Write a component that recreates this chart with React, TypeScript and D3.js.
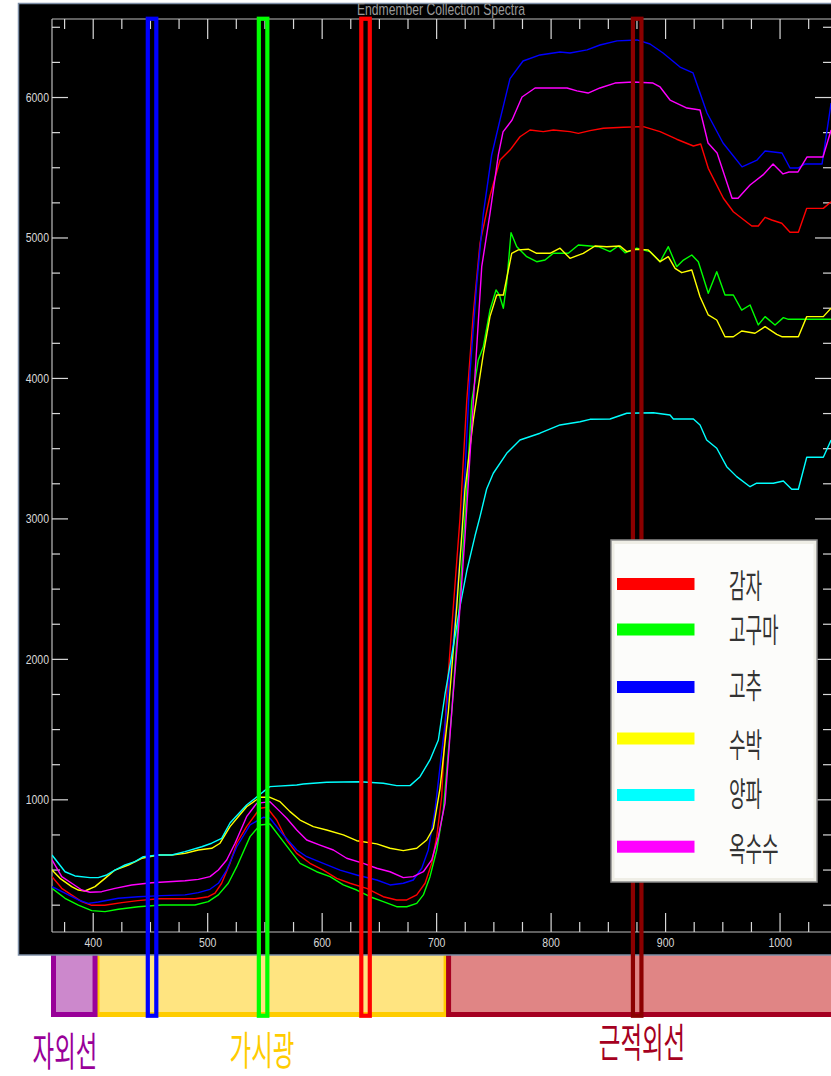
import React from 'react';
import * as d3 from 'd3';

type Pt = [number, number];

// ---- data: [wavelength nm, value] ----
const gamja: Pt[] = [[364,453],[372.5,370],[381,323],[390,275],[398.7,249],[410,249],[425,268],[439,282],[457,296],[489,296],[500.5,310],[506.4,335],[512.2,406],[519.5,548],[525.4,691],[534,809],[545.7,940],[551.6,947],[560.3,856],[569,714],[577.8,619],[589.4,548],[601,500],[612.7,441],[624.3,406],[638.9,370],[653.4,310],[665.1,287],[673.9,287],[682.6,323],[689.9,406],[695.7,548],[700.1,738],[704.4,1022],[708.8,1750],[714.6,2376],[720.4,3003],[726.3,3839],[732.1,4466],[737.9,4964],[746.6,5299],[755.4,5555],[764.1,5626],[772.8,5721],[781.6,5769],[793.2,5757],[802,5769],[816.5,5757],[823.8,5745],[834,5764],[845.6,5781],[863.1,5788],[880.6,5793],[895.2,5757],[909.7,5703],[924.3,5655],[930.7,5669],[937.3,5496],[950.5,5283],[959.2,5187],[975.3,5085],[981,5085],[986.9,5147],[992.7,5128],[1001.5,5105],[1008.7,5041],[1016,5041],[1023.3,5211],[1037.8,5211],[1044.6,5258]];

const goguma: Pt[] = [[364,370],[375.4,299],[387,251],[398.7,211],[410.3,204],[421.9,221],[439.4,239],[459.8,251],[488.9,251],[500.5,275],[509.3,323],[518,406],[525.4,524],[537,738],[545.7,821],[554.4,828],[566.1,702],[580.7,548],[595.2,488],[606.9,453],[618.5,394],[630.2,358],[641.8,310],[653.4,275],[665.1,239],[673.9,239],[682.6,263],[688.4,323],[694.2,453],[700.1,643],[705.9,928],[713.2,1625],[720.4,2458],[726.3,3213],[730.7,3839],[736.4,4132],[740.8,4226],[746.6,4487],[751.9,4630],[754.8,4594],[758.3,4500],[761.2,4677],[765,5038],[770,4938],[778.7,4867],[787.4,4831],[794.7,4843],[801.9,4891],[815,4891],[823.8,4950],[834,4943],[841.3,4938],[851.5,4903],[858.7,4943],[864.6,4895],[874.8,4927],[886.4,4903],[895.2,4831],[902.4,4938],[909.7,4796],[915.6,4843],[922.9,4879],[928.6,4831],[937.3,4606],[944.7,4760],[951.9,4594],[959.2,4594],[966.5,4487],[973.8,4523],[981,4381],[986.9,4440],[995.6,4381],[1002.9,4433],[1007.3,4421],[1044.6,4421]];

const gochu: Pt[] = [[364,382],[375.4,335],[387,287],[395.7,263],[404.5,273],[421.9,299],[439.4,310],[459.8,318],[480.2,323],[491.8,339],[502,363],[509.3,406],[516.6,500],[525.4,666],[537,821],[548.6,876],[554.4,869],[566.1,750],[577.8,643],[586.5,595],[601,548],[615.6,500],[630.2,465],[647.7,429],[659.3,394],[670.9,406],[679.6,429],[687,513],[692.7,643],[698.6,928],[707.3,1540],[714.6,2126],[721.9,2878],[729.2,4046],[735,4673],[740.8,5174],[748.1,5591],[755.4,5842],[764.1,6135],[775.5,6260],[790.3,6303],[807.8,6324],[816.5,6317],[831.4,6339],[842.7,6374],[857.6,6403],[875,6410],[886.4,6381],[897.8,6317],[912.6,6217],[924,6175],[936.2,5890],[950.2,5676],[966.8,5506],[979.9,5555],[986.9,5619],[1001.7,5605],[1008.7,5498],[1015.7,5498],[1021.8,5527],[1036.7,5527],[1044.6,5961]];

const subak: Pt[] = [[364,500],[371,441],[381.2,382],[387,358],[392.8,351],[401.6,382],[410.3,441],[419,500],[430.7,536],[442.4,584],[456.9,607],[468.6,607],[480.2,619],[491.8,643],[503.5,655],[510.8,691],[519.5,809],[534,951],[545.7,1018],[554.4,1018],[563.2,987],[571.9,916],[580.7,856],[592.3,809],[603.9,785],[618.5,750],[630.2,709],[647.7,686],[659.3,655],[670.9,638],[682.6,655],[691.3,714],[697.1,797],[703,1084],[710.2,1625],[717.6,2376],[724.8,3213],[732.1,3709],[740.8,4174],[746.6,4440],[752.5,4594],[758.3,4594],[765.6,4891],[771.4,4915],[780.1,4920],[787.4,4891],[799,4891],[807.8,4927],[816.5,4855],[828.1,4891],[838.4,4943],[848.6,4938],[860.2,4943],[866.1,4903],[874.8,4920],[884.9,4915],[895.2,4831],[902.4,4867],[908.3,4784],[914.1,4753],[922.9,4772],[930.1,4582],[937.3,4452],[944.7,4416],[951.9,4297],[959.2,4297],[966.5,4338],[978.1,4322],[986.9,4369],[997.1,4314],[1001.5,4297],[1016,4297],[1023.3,4440],[1037.8,4440],[1044.6,4500]];

const yangpa: Pt[] = [[364,607],[375.4,488],[384.1,458],[397.2,446],[404.4,446],[411.8,465],[419,500],[427.8,536],[436.5,560],[443.8,595],[456.9,607],[468.6,607],[480.2,631],[494.8,666],[503.5,691],[512.2,726],[519.5,835],[534,963],[548.6,1058],[554.4,1094],[577.8,1106],[583.5,1113],[603.9,1125],[633.1,1129],[653.4,1118],[665.1,1101],[676.8,1101],[685.5,1165],[694.2,1284],[701.5,1426],[707.3,1750],[716.1,2166],[720.4,2376],[726.3,2629],[733.5,2878],[737.9,3016],[743.7,3213],[749.5,3325],[761.2,3467],[772.8,3562],[790.3,3610],[807.8,3669],[825.3,3692],[834,3709],[851.5,3711],[866.1,3752],[889.3,3756],[903.9,3740],[906.8,3711],[924.3,3711],[930.1,3669],[935.9,3562],[944.7,3503],[953.4,3372],[962.1,3301],[973.8,3229],[979.6,3254],[994.1,3254],[1002.9,3270],[1010.2,3211],[1016,3211],[1023.3,3439],[1037.8,3439],[1044.6,3562]];

const oksusu: Pt[] = [[364,572],[372.5,453],[381.2,406],[390,358],[397.2,342],[407.4,346],[419,370],[433.6,394],[451.1,410],[480.2,424],[491.8,434],[502,453],[509.3,500],[516.6,572],[523.9,691],[534,880],[542.8,975],[554.4,987],[563.2,916],[569,869],[577.8,785],[586.5,714],[598.1,678],[609.8,643],[621.4,584],[636,548],[647.7,513],[659.3,488],[670.9,446],[679.6,453],[688.4,488],[695.7,572],[701.5,738],[707.3,975],[713.2,1625],[719,2209],[724.8,2878],[732.1,3839],[739.4,4796],[746.6,5174],[753.9,5591],[758,5755],[765.9,5840],[774.6,6004],[786,6068],[813.9,6068],[822.6,6047],[832.3,6032],[842.7,6068],[855.8,6103],[871.5,6111],[889,6103],[895.2,6075],[903.9,5982],[918.7,5925],[930.1,5911],[937.1,5676],[945,5605],[958.1,5283],[963.3,5283],[973.8,5377],[985.1,5449],[993.9,5527],[1002.6,5456],[1007.8,5470],[1015.7,5470],[1023.6,5577],[1037.5,5577],[1044.6,5769]];

const seriesNames = ['감자', '고구마', '고추', '수박', '양파', '옥수수'];
const seriesColors = ['#FF0000', '#00FF00', '#0000FF', '#FFFF00', '#00FFFF', '#FF00FF'];
const seriesData = [gamja, goguma, gochu, subak, yangpa, oksusu];

const xMajorTicks = [400, 500, 600, 700, 800, 900, 1000];
const yMajorTicks = [1000, 2000, 3000, 4000, 5000, 6000];

const markerWavelengths = [451.4, 548.4, 637.9, 875.2];
const markerColors = ['#0000FF', '#00FF00', '#FF0000', '#8B0000'];

const bandNames = ['자외선', '가시광', '근적외선'];
const bandStarts = [364, 401.6, 710];
const bandEnds = [401.6, 710, 1150];
const bandFills = ['#CC88CC', '#FFE480', '#E08585'];
const bandStrokes = ['#990099', '#FFCC00', '#A50021'];

const title = 'Endmember Collection Spectra';

// ---- layout ----
const W = 831;
const H = 1076;
const PL = 52, PR = 835, PT = 19, PB = 932;

export default function App() {
  const x = d3.scaleLinear().domain([364, 1048]).range([PL, PR]);
  const y = d3.scaleLinear().domain([59, 6559]).range([PB, PT]);
  const line = d3.line<Pt>().x(d => x(d[0])).y(d => y(d[1]));

  const xMinor = d3.range(375, 1050, 25).filter(t => t % 100 !== 0);
  const yMinor = d3.range(250, 6559, 250).filter(t => t % 1000 !== 0);

  const tickColor = '#d8d8d8';
  const labelFont = "'Liberation Sans', Arial, sans-serif";
  const krFont = "'Noto Sans CJK KR', 'Noto Sans', sans-serif";

  // band label centres (layout)
  const bandLabelX = [65, 262, 642];
  const bandLabelY = [1048.5, 1047.5, 1039];

  const legendX = 611, legendY = 540, legendW = 206, legendH = 342;
  const legendRowY = [584, 629.5, 687, 738.5, 795, 846.7];
  const legendTextY = [583.5, 627.5, 684, 742.5, 792, 846.5];

  return (
    <svg width={W} height={H} style={{ position: 'absolute', left: 0, top: 0, background: '#fff' }}>
      <defs>
        <clipPath id="plotClip">
          <rect x={PL} y={PT} width={PR - PL} height={PB - PT} />
        </clipPath>
      </defs>
      <rect x={0} y={0} width={W} height={H} fill="#ffffff" />

      {/* spectral bands (drawn under the panel) */}
      {[1, 2, 0].map(i => {
        const x0 = i === 0 ? x(bandStarts[i]) + 1.5 : x(bandStarts[i]) + (i === 1 ? 2 : 0.5);
        const x1 = x(bandEnds[i]) - (i === 1 ? 2 : 0);
        return (
          <rect key={'band' + i} x={x0} y={945} width={Math.max(1, x1 - x0)} height={69.5}
            fill={bandFills[i]} stroke={bandStrokes[i]} strokeWidth={5} />
        );
      })}

      {/* black panel */}
      <rect x={18.5} y={3.5} width={900} height={951.5} fill="#000" stroke="#7d8ea6" strokeWidth={1.5} />

      {/* title */}
      <g transform={`translate(${441},${9.5}) scale(1,1.4)`}>
        <text x={0} y={0} textAnchor="middle" dominantBaseline="central" fontFamily={labelFont}
          fontSize={12} fill="#9a9a9a" textLength={168} lengthAdjust="spacingAndGlyphs">{title}</text>
      </g>

      {/* axes frame */}
      <g stroke="#bdbdbd" strokeWidth={1.2} fill="none">
        <line x1={PL} x2={PL} y1={PT} y2={PB} />
        <line x1={PR - 2} x2={PR - 2} y1={PT} y2={PB} />
        <line x1={PL} x2={PR} y1={PT} y2={PT} />
        <line x1={PL} x2={PR} y1={PB} y2={PB} />
      </g>

      {/* x ticks */}
      <g stroke={tickColor} strokeWidth={1.2}>
        {xMajorTicks.map(t => (
          <g key={'xm' + t}>
            <line x1={x(t)} x2={x(t)} y1={PB} y2={PB - 19} />
            <line x1={x(t)} x2={x(t)} y1={PT} y2={PT + 20} />
          </g>
        ))}
        {xMinor.map(t => (
          <g key={'xn' + t}>
            <line x1={x(t)} x2={x(t)} y1={PB} y2={PB - 10} />
            <line x1={x(t)} x2={x(t)} y1={PT} y2={PT + 10} />
          </g>
        ))}
      </g>
      {xMajorTicks.map(t => (
        <g key={'xl' + t} transform={`translate(${x(t)},${943}) scale(1,1.25)`}>
          <text x={0} y={0} textAnchor="middle" dominantBaseline="central" fontFamily={labelFont}
            fontSize={10.5} fill={tickColor}>{t}</text>
        </g>
      ))}

      {/* y ticks */}
      <g stroke={tickColor} strokeWidth={1.2}>
        {yMajorTicks.map(t => (
          <g key={'ym' + t}>
            <line x1={PL} x2={PL + 16} y1={y(t)} y2={y(t)} />
            <line x1={PR - 2} x2={PR - 20} y1={y(t)} y2={y(t)} />
          </g>
        ))}
        {yMinor.map(t => (
          <g key={'yn' + t}>
            <line x1={PL} x2={PL + 8} y1={y(t)} y2={y(t)} />
            <line x1={PR - 2} x2={PR - 12} y1={y(t)} y2={y(t)} />
          </g>
        ))}
      </g>
      {yMajorTicks.map(t => (
        <g key={'yl' + t} transform={`translate(${49},${y(t)}) scale(1,1.25)`}>
          <text x={0} y={0} textAnchor="end" dominantBaseline="central" fontFamily={labelFont}
            fontSize={10.5} fill={tickColor}>{t}</text>
        </g>
      ))}

      {/* spectra */}
      <g clipPath="url(#plotClip)" fill="none" strokeWidth={1.4} strokeLinejoin="round">
        {seriesData.map((d, i) => (
          <path key={'s' + i} d={line(d) || ''} stroke={seriesColors[i]} />
        ))}
      </g>

      {/* wavelength markers */}
      {markerWavelengths.map((w, i) => (
        <rect key={'mk' + i} x={x(w) - 4.25} y={18.75} width={8.5} height={997}
          fill="none" stroke={markerColors[i]} strokeWidth={4.2} />
      ))}

      {/* legend */}
      <rect x={legendX} y={legendY} width={legendW} height={legendH} fill="#EFEEE6" stroke="#8a8a8a" strokeWidth={1.5} />
      <rect x={legendX + 3.5} y={legendY + 4} width={legendW - 7} height={legendH - 8} fill="#FCFCFA" />
      {seriesNames.map((n, i) => (
        <g key={'lg' + i}>
          <rect x={617} y={legendRowY[i] - 6} width={77.5} height={12} fill={seriesColors[i]} />
          <g transform={`translate(${729},${legendTextY[i]}) scale(1,1.85)`}>
            <text x={0} y={0} dominantBaseline="central" fontFamily={krFont} fontSize={18} fill="#333">{n}</text>
          </g>
        </g>
      ))}

      {/* band labels */}
      {bandNames.map((n, i) => (
        <g key={'bl' + i} transform={`translate(${bandLabelX[i]},${bandLabelY[i]}) scale(1,1.7)`}>
          <text x={0} y={0} textAnchor="middle" dominantBaseline="central" fontFamily={krFont}
            fontSize={23.5} fill={bandStrokes[i]}>{n}</text>
        </g>
      ))}
    </svg>
  );
}
